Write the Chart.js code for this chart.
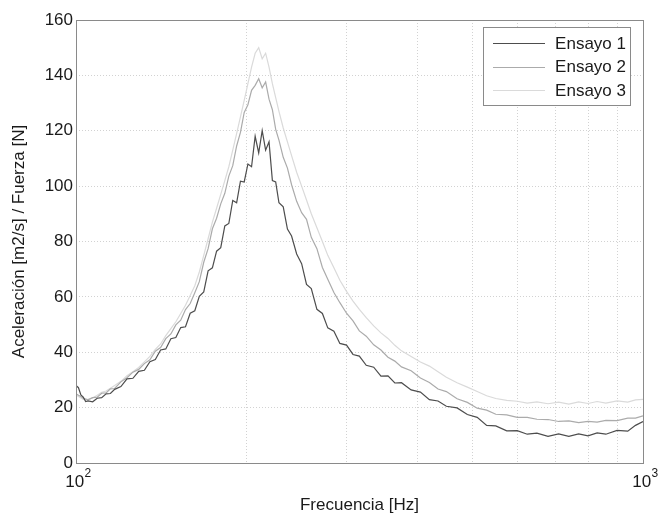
<!DOCTYPE html>
<html>
<head>
<meta charset="utf-8">
<script src="https://cdn.jsdelivr.net/npm/chart.js@4.4.1/dist/chart.umd.min.js"></script>
<style>
  html, body { margin: 0; padding: 0; background: #fff; }
  #wrap { width: 666px; height: 518px; }
</style>
</head>
<body>
<div id="wrap"><canvas id="myChart"></canvas></div>
<script>
// Frequencies [Hz]
const freqs = [100, 101, 102, 103, 104, 105, 107, 109, 111, 113,
    115, 117, 120, 123, 126, 129, 132, 135, 138, 141,
    144, 147, 150, 153, 156, 159, 162, 165, 168, 171,
    174, 177, 180, 183, 186, 189, 192, 195, 198, 201,
    204, 207, 210, 213, 216, 219, 222, 225, 228, 232,
    236, 240, 245, 250, 255, 260, 266, 272, 278, 285,
    292, 300, 308, 316, 325, 335, 345, 355, 365, 375,
    390, 405, 420, 435, 450, 470, 490, 510, 530, 550,
    575, 600, 625, 650, 680, 710, 740, 770, 800, 830,
    860, 900, 940, 970, 1000];

const ensayo1 = [28, 27.2, 24.6, 23.8, 22.2, 22.4, 22.1, 23.4, 23.6, 25.0,
    25.1, 26.6, 27.6, 30.4, 30.6, 33.1, 33.5, 36.6, 37.4, 40.8,
    41.2, 44.9, 45.3, 48.9, 49.2, 54.1, 55.0, 60.2, 61.8, 69.4,
    70.5, 76.5, 77.8, 85.6, 86.5, 94.8, 94.0, 101.8, 101.5, 108,
    107, 118, 112, 120, 113, 116, 102, 101.5, 94, 92.5,
    84.5, 82, 75.5, 72, 64.5, 63, 55.5, 54, 48.8, 47.6,
    43.2, 42.6, 39.2, 38.6, 35.3, 34.6, 31.4, 31.5, 28.9, 29,
    26.4, 25.6, 22.9, 22.4, 20.5, 19.9, 17.5, 16.5, 13.6, 13.4,
    11.6, 11.7, 10.4, 10.8, 9.6, 10.5, 9.6, 10.5, 9.8, 10.9,
    10.4, 11.8, 11.5, 13.6, 15];

const ensayo2 = [25, 24.5, 24, 23.4, 23.1, 22.8, 23.6, 23.8, 25.2, 25.3,
    26.8, 26.9, 29.3, 30.8, 32.8, 33.8, 35.9, 37.3, 40.4, 41.7,
    44.9, 46.6, 49.9, 51.6, 55.4, 57.6, 61.5, 65.5, 72.5, 77.4,
    84.6, 88.4, 93.6, 97.4, 103.6, 107.4, 114.5, 119.4, 126.6, 129.4,
    134.6, 136.4, 138.8, 135.5, 137.6, 131.4, 127.6, 120.5, 116.6, 110.4,
    106.5, 100.5, 94.5, 90.4, 88, 81.5, 77.4, 70.6, 66.4, 61.6,
    57.9, 54.1, 51.3, 47.7, 45.8, 42.7, 40.8, 38.2, 36.8, 34.7,
    33.3, 30.7, 29.1, 26.7, 25.8, 23.2, 21.9, 19.8, 19.1, 17.6,
    17.4, 16.5, 16.5, 15.8, 15.7, 15.0, 15.2, 14.6, 15.0, 14.8,
    15.4, 15.3, 16.2, 16.2, 17];

const ensayo3 = [24.5, 24, 23.5, 23, 23, 23, 23.5, 24.5, 25.5, 26,
    27, 28, 29.5, 31.5, 33, 34.5, 36.5, 38.5, 41, 43,
    46, 48.5, 51, 54, 57, 60.5, 64, 69, 75, 81,
    87, 92, 97, 102, 107, 113, 119, 125, 131, 137,
    143, 148, 150, 146, 148, 143, 137, 132, 127, 121,
    116, 111, 105, 100, 95, 90, 85, 80, 75, 70.5,
    66, 62, 58.5, 55.5, 52.5, 49.5, 47, 45, 42.5, 40.5,
    38.5, 36.5, 35, 33, 31, 29, 27.4, 25.8, 24.3, 23.3,
    22.6, 22.3, 21.6, 22.1, 21.4, 22.0, 21.3, 22.1, 21.5, 22.2,
    21.6, 22.4, 22.0, 22.8, 23];

const seriesNames = ['Ensayo 1', 'Ensayo 2', 'Ensayo 3'];
const xTicks = [100, 200, 300, 400, 500, 600, 700, 800, 900, 1000];
const xLabels = { 100: ['10', '2'], 1000: ['10', '3'] };   // base, exponent
const yTicks = [0, 20, 40, 60, 80, 100, 120, 140, 160];

const FONT = '"Liberation Sans", Arial, sans-serif';
const colors = ['#4d4d4d', '#ababab', '#dadada'];

function toPoints(vals) {
    return freqs.map(function (f, i) { return { x: f, y: vals[i] }; });
}

// frame around the plot area, 10^n tick labels and boxed legend
const framePlugin = {
    id: 'frame',
    afterDraw: function (chart) {
        const ctx = chart.ctx;
        const a = chart.chartArea;
        ctx.save();
        ctx.strokeStyle = '#8a8a8a';
        ctx.lineWidth = 1;
        ctx.strokeRect(Math.round(a.left) + 0.5, Math.round(a.top) + 0.5,
            Math.round(a.right - a.left), Math.round(a.bottom - a.top));

        // x tick labels with superscript exponent
        ctx.fillStyle = '#1a1a1a';
        ctx.textBaseline = 'alphabetic';
        ctx.textAlign = 'left';
        Object.keys(xLabels).forEach(function (k) {
            const px = chart.scales.x.getPixelForValue(Number(k));
            const base = xLabels[k][0], exp = xLabels[k][1];
            ctx.font = '17px ' + FONT;
            const wb = ctx.measureText(base).width;
            ctx.font = '12px ' + FONT;
            const we = ctx.measureText(exp).width;
            const x0 = px - (wb + we) / 2 + 2;
            ctx.font = '17px ' + FONT;
            ctx.fillText(base, x0, a.bottom + 24);
            ctx.font = '12px ' + FONT;
            ctx.fillText(exp, x0 + wb + 0.5, a.bottom + 14);
        });

        // legend
        const bw = 147, bh = 78;
        const bx = Math.round(a.right - 13 - bw), by = Math.round(a.top + 7);
        ctx.fillStyle = '#fff';
        ctx.fillRect(bx, by, bw, bh);
        ctx.strokeStyle = '#8a8a8a';
        ctx.strokeRect(bx + 0.5, by + 0.5, bw, bh);
        ctx.font = '17px ' + FONT;
        ctx.textAlign = 'right';
        ctx.textBaseline = 'middle';
        chart.data.datasets.forEach(function (ds, i) {
            const yy = by + 16 + i * 23.7;
            ctx.strokeStyle = ds.borderColor;
            ctx.lineWidth = 1;
            ctx.beginPath();
            ctx.moveTo(bx + 10, Math.round(yy) + 0.5);
            ctx.lineTo(bx + 62, Math.round(yy) + 0.5);
            ctx.stroke();
            ctx.fillStyle = '#1a1a1a';
            ctx.fillText(ds.label, bx + bw - 4, yy + 1);
        });
        ctx.restore();
    }
};

const data = {
    datasets: [
        { label: seriesNames[0], data: toPoints(ensayo1), borderColor: colors[0], borderWidth: 1.2 },
        { label: seriesNames[1], data: toPoints(ensayo2), borderColor: colors[1], borderWidth: 1.2 },
        { label: seriesNames[2], data: toPoints(ensayo3), borderColor: colors[2], borderWidth: 1.2 }
    ]
};

const config = {
    type: 'line',
    data: data,
    options: {
        responsive: true,
        maintainAspectRatio: false,
        animation: false,
        layout: { padding: { left: 0, right: 23, top: 20, bottom: 0 } },
        elements: { point: { radius: 0 }, line: { tension: 0, fill: false } },
        plugins: { legend: { display: false }, tooltip: { enabled: false } },
        scales: {
            x: {
                type: 'logarithmic',
                min: 100,
                max: 1000,
                afterBuildTicks: function (scale) {
                    scale.ticks = xTicks.map(function (v) { return { value: v }; });
                },
                afterFit: function (scale) { scale.height = 55; },
                grid: { color: '#d2d2d2', drawTicks: false },
                border: { display: false, dash: [1, 2] },
                ticks: {
                    autoSkip: false,
                    maxRotation: 0,
                    font: { family: FONT, size: 17 },
                    callback: function () { return ''; }
                },
                title: {
                    display: true,
                    text: 'Frecuencia [Hz]',
                    color: '#1a1a1a',
                    font: { family: FONT, size: 17 },
                    padding: { top: 0, bottom: 2 }
                }
            },
            y: {
                min: 0,
                max: 160,
                afterBuildTicks: function (scale) {
                    scale.ticks = yTicks.map(function (v) { return { value: v }; });
                },
                afterFit: function (scale) { scale.width = 76; },
                grid: { color: '#d2d2d2', drawTicks: false },
                border: { display: false, dash: [1, 2] },
                ticks: {
                    padding: 3,
                    color: '#1a1a1a',
                    font: { family: FONT, size: 17 }
                },
                title: {
                    display: true,
                    text: 'Aceleración [m2/s] / Fuerza [N]',
                    color: '#1a1a1a',
                    font: { family: FONT, size: 17 },
                    padding: { top: 9, bottom: 0 }
                }
            }
        }
    },
    plugins: [framePlugin]
};

var myChart = new Chart(document.getElementById('myChart'), config);
</script>
</body>
</html>
